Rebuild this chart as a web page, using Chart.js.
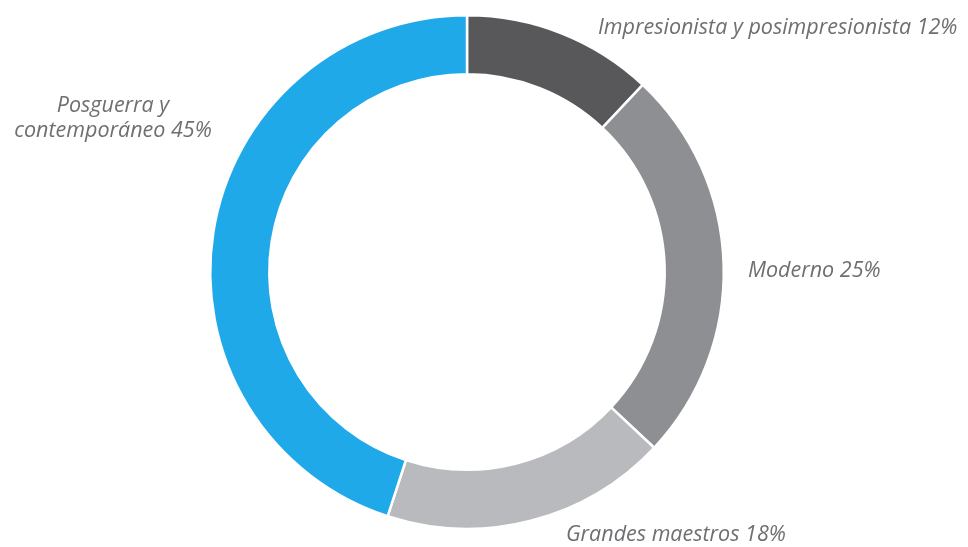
<!DOCTYPE html>
<html>
<head>
<meta charset="utf-8">
<script src="https://cdn.jsdelivr.net/npm/chart.js@4/dist/chart.umd.min.js"></script>
<style>
html,body{margin:0;padding:0;background:#fff;}
#wrap{width:968px;height:547px;position:relative;}
</style>
</head>
<body>
<div id="wrap"><canvas id="c" width="968" height="547"></canvas></div>
<script>
const categories = ["Impresionista y posimpresionista", "Moderno", "Grandes maestros", "Posguerra y contemporáneo"];
const shares = [12, 25, 18, 45];
const colors = ["#58585b", "#8e8f93", "#b9babd", "#1fa9e9"];
const labelLines = [
  ["Impresionista y posimpresionista 12%"],
  ["Moderno 25%"],
  ["Grandes maestros 18%"],
  ["Posguerra y", "contemporáneo 45%"]
];

const labelPlugin = {
  id: 'outerLabels',
  afterDraw(chart) {
    const ctx = chart.ctx;
    const spots = [
      {x: 598, y: 28, align: 'left'},
      {x: 748, y: 271, align: 'left'},
      {x: 566, y: 535, align: 'left'},
      {x: 113, y: 106, align: 'center'}
    ];
    ctx.save();
    ctx.font = 'italic 21.5px "Open Sans"';
    ctx.fillStyle = '#6e6f72';
    ctx.textBaseline = 'middle';
    labelLines.forEach((lines, i) => {
      const s = spots[i];
      ctx.textAlign = s.align;
      lines.forEach((t, j) => ctx.fillText(t, s.x, s.y + j * 25));
    });
    ctx.restore();
  }
};

new Chart(document.getElementById('c'), {
  type: 'doughnut',
  data: {
    labels: categories,
    datasets: [{
      data: shares,
      backgroundColor: colors,
      borderColor: '#ffffff',
      borderWidth: 2.5
    }]
  },
  options: {
    responsive: false,
    animation: false,
    cutout: '77%',
    layout: {padding: {left: 0, right: 34, top: 14, bottom: 17}},
    plugins: {legend: {display: false}, tooltip: {enabled: false}}
  },
  plugins: [labelPlugin]
});
</script>
</body>
</html>
